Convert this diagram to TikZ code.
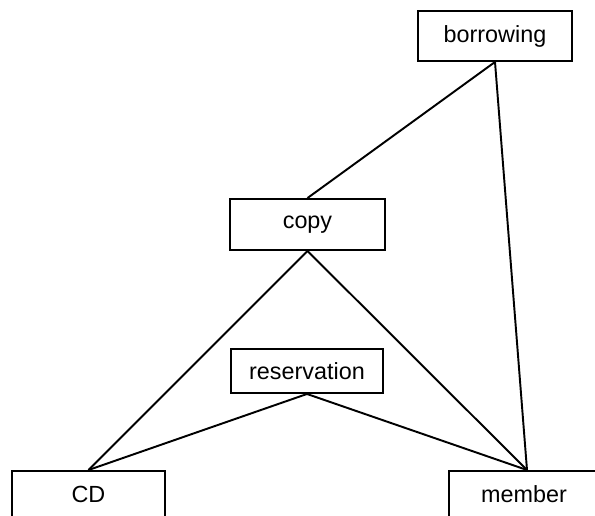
\documentclass[tikz,border=0pt]{standalone}
\usepackage{fontspec}
\setmainfont{Liberation Sans}
\usetikzlibrary{positioning}

\tikzset{
  entity/.style = {draw, line width=1.1pt, inner sep=0pt, font=\fontsize{13.3}{16}\selectfont},
  label text/.style = {font=\fontsize{13.3}{16}\selectfont},
  link/.style = {line width=1.1pt}
}

\begin{document}
\begin{tikzpicture}[x=0.02cm, y=-0.02cm]

\clip (0,0) rectangle (595,515);

\node [entity, minimum width=154*0.02cm, minimum height=50*0.02cm] (borrowing) at (495,36) {borrowing};
\node [entity, minimum width=155*0.02cm, minimum height=51*0.02cm] (copy) at (307.5,224.5) {copy};
\node [entity, minimum width=152*0.02cm, minimum height=44*0.02cm] (reservation) at (307,371) {reservation};

\node [entity, minimum width=153*0.02cm, minimum height=70*0.02cm, anchor=north] (cd) at (88.5,470) {};
\node [label text] (cd label) at (88.5,494) {CD};
\node [entity, minimum width=156*0.02cm, minimum height=70*0.02cm, anchor=north] (member) at (527,470) {};
\node [label text] (member label) at (524,494) {member};

\draw [link] (borrowing.south) -- (copy.north);
\draw [link] (borrowing.south) -- (member.north);

\draw [link] (copy.south) -- (cd.north);
\draw [link] (copy.south) -- (member.north);

\draw [link] (reservation.south) -- (cd.north);
\draw [link] (reservation.south) -- (member.north);

\end{tikzpicture}
\end{document}
